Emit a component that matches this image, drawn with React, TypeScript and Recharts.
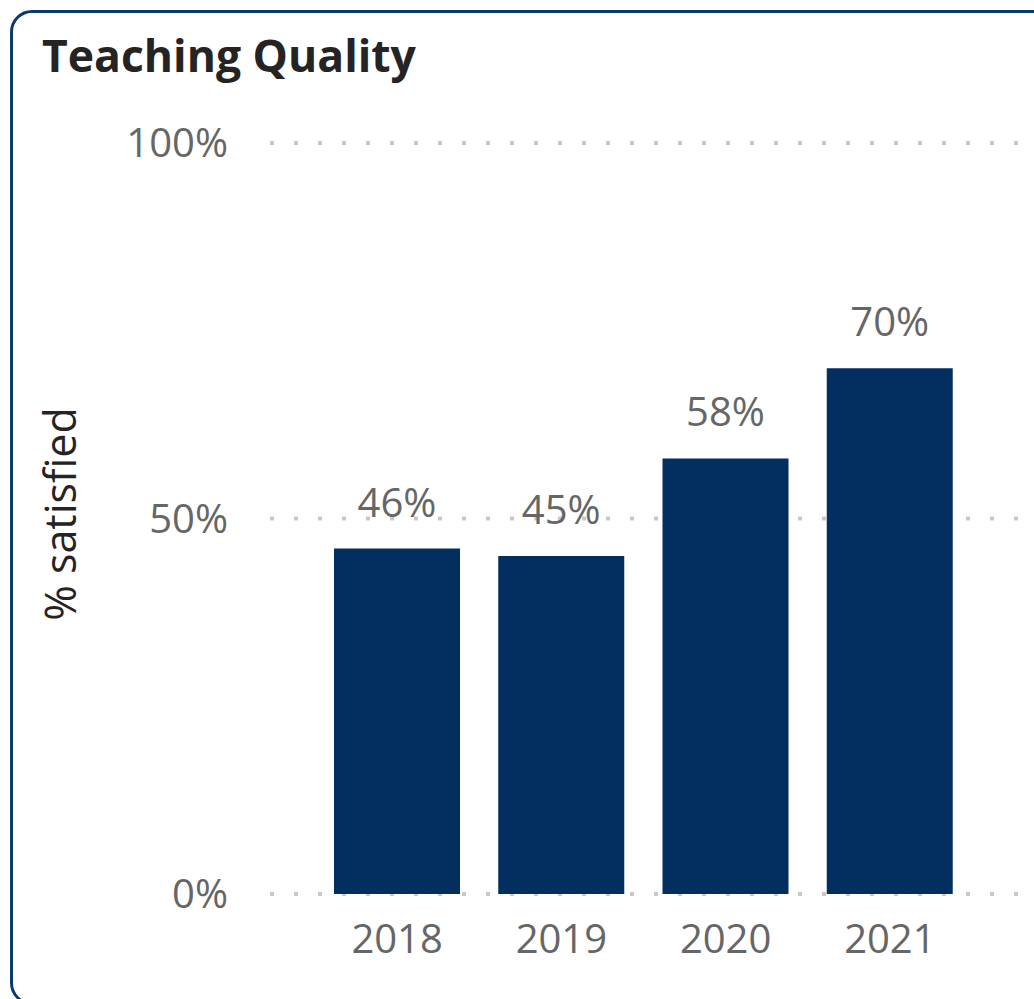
import { BarChart, Bar, XAxis, YAxis, CartesianGrid, LabelList } from "recharts"

const years = ["2018", "2019", "2020", "2021"]
const satisfied = [46, 45, 58, 70]
const yTicks = [0, 50, 100]

const data = years.map((year, i) => ({ year, satisfied: satisfied[i] }))

const FONT = "'Segoe UI', 'Open Sans', sans-serif"

export default function App() {
  return (
    <div style={{ position: "absolute", left: 0, top: 0, width: 1034, height: 999, overflow: "hidden", background: "#fff" }}>
      <div
        style={{
          position: "absolute",
          left: 10,
          top: 10,
          width: 1060,
          height: 995,
          border: "3px solid #0b3a6e",
          borderRadius: 22,
          boxSizing: "border-box",
        }}
      />
      <div
        style={{
          position: "absolute",
          left: 42,
          top: 33,
          fontFamily: FONT,
          fontWeight: 700,
          fontSize: 44.5,
          lineHeight: 1,
          color: "#252423",
          whiteSpace: "nowrap",
        }}
      >
        Teaching Quality
      </div>
      <div style={{ position: "absolute", left: 0, top: 0 }}>
        <BarChart width={1034} height={999} data={data} margin={{ top: 143, right: 0, left: 0, bottom: 0 }}>
          <CartesianGrid vertical={false} stroke="#c8c8c8" strokeWidth={4} strokeDasharray="4 20" />
          <XAxis
            dataKey="year"
            height={105}
            axisLine={false}
            tickLine={false}
            tickSize={0}
            tickMargin={31}
            padding={{ left: 45, right: 62 }}
            tick={{ fill: "#666666", fontSize: 40, fontFamily: FONT }}
          />
          <YAxis
            width={270}
            domain={[0, 100]}
            ticks={yTicks}
            axisLine={false}
            tickLine={false}
            tickSize={0}
            tickMargin={42}
            tickFormatter={(v: number) => `${v}%`}
            tick={{ fill: "#666666", fontSize: 40, fontFamily: FONT }}
            label={{
              content: () => (
                <text
                  x={76}
                  y={514}
                  transform="rotate(-90 76 514)"
                  textAnchor="middle"
                  fill="#252423"
                  fontSize={43}
                  fontFamily={FONT}
                >
                  % satisfied
                </text>
              ),
            }}
          />
          <Bar dataKey="satisfied" fill="#022f5f" barSize={126} isAnimationActive={false}>
            <LabelList
              dataKey="satisfied"
              position="top"
              offset={32}
              formatter={(v: number) => `${v}%`}
              fill="#666666"
              fontSize={40}
              fontFamily={FONT}
            />
          </Bar>
        </BarChart>
      </div>
    </div>
  )
}
